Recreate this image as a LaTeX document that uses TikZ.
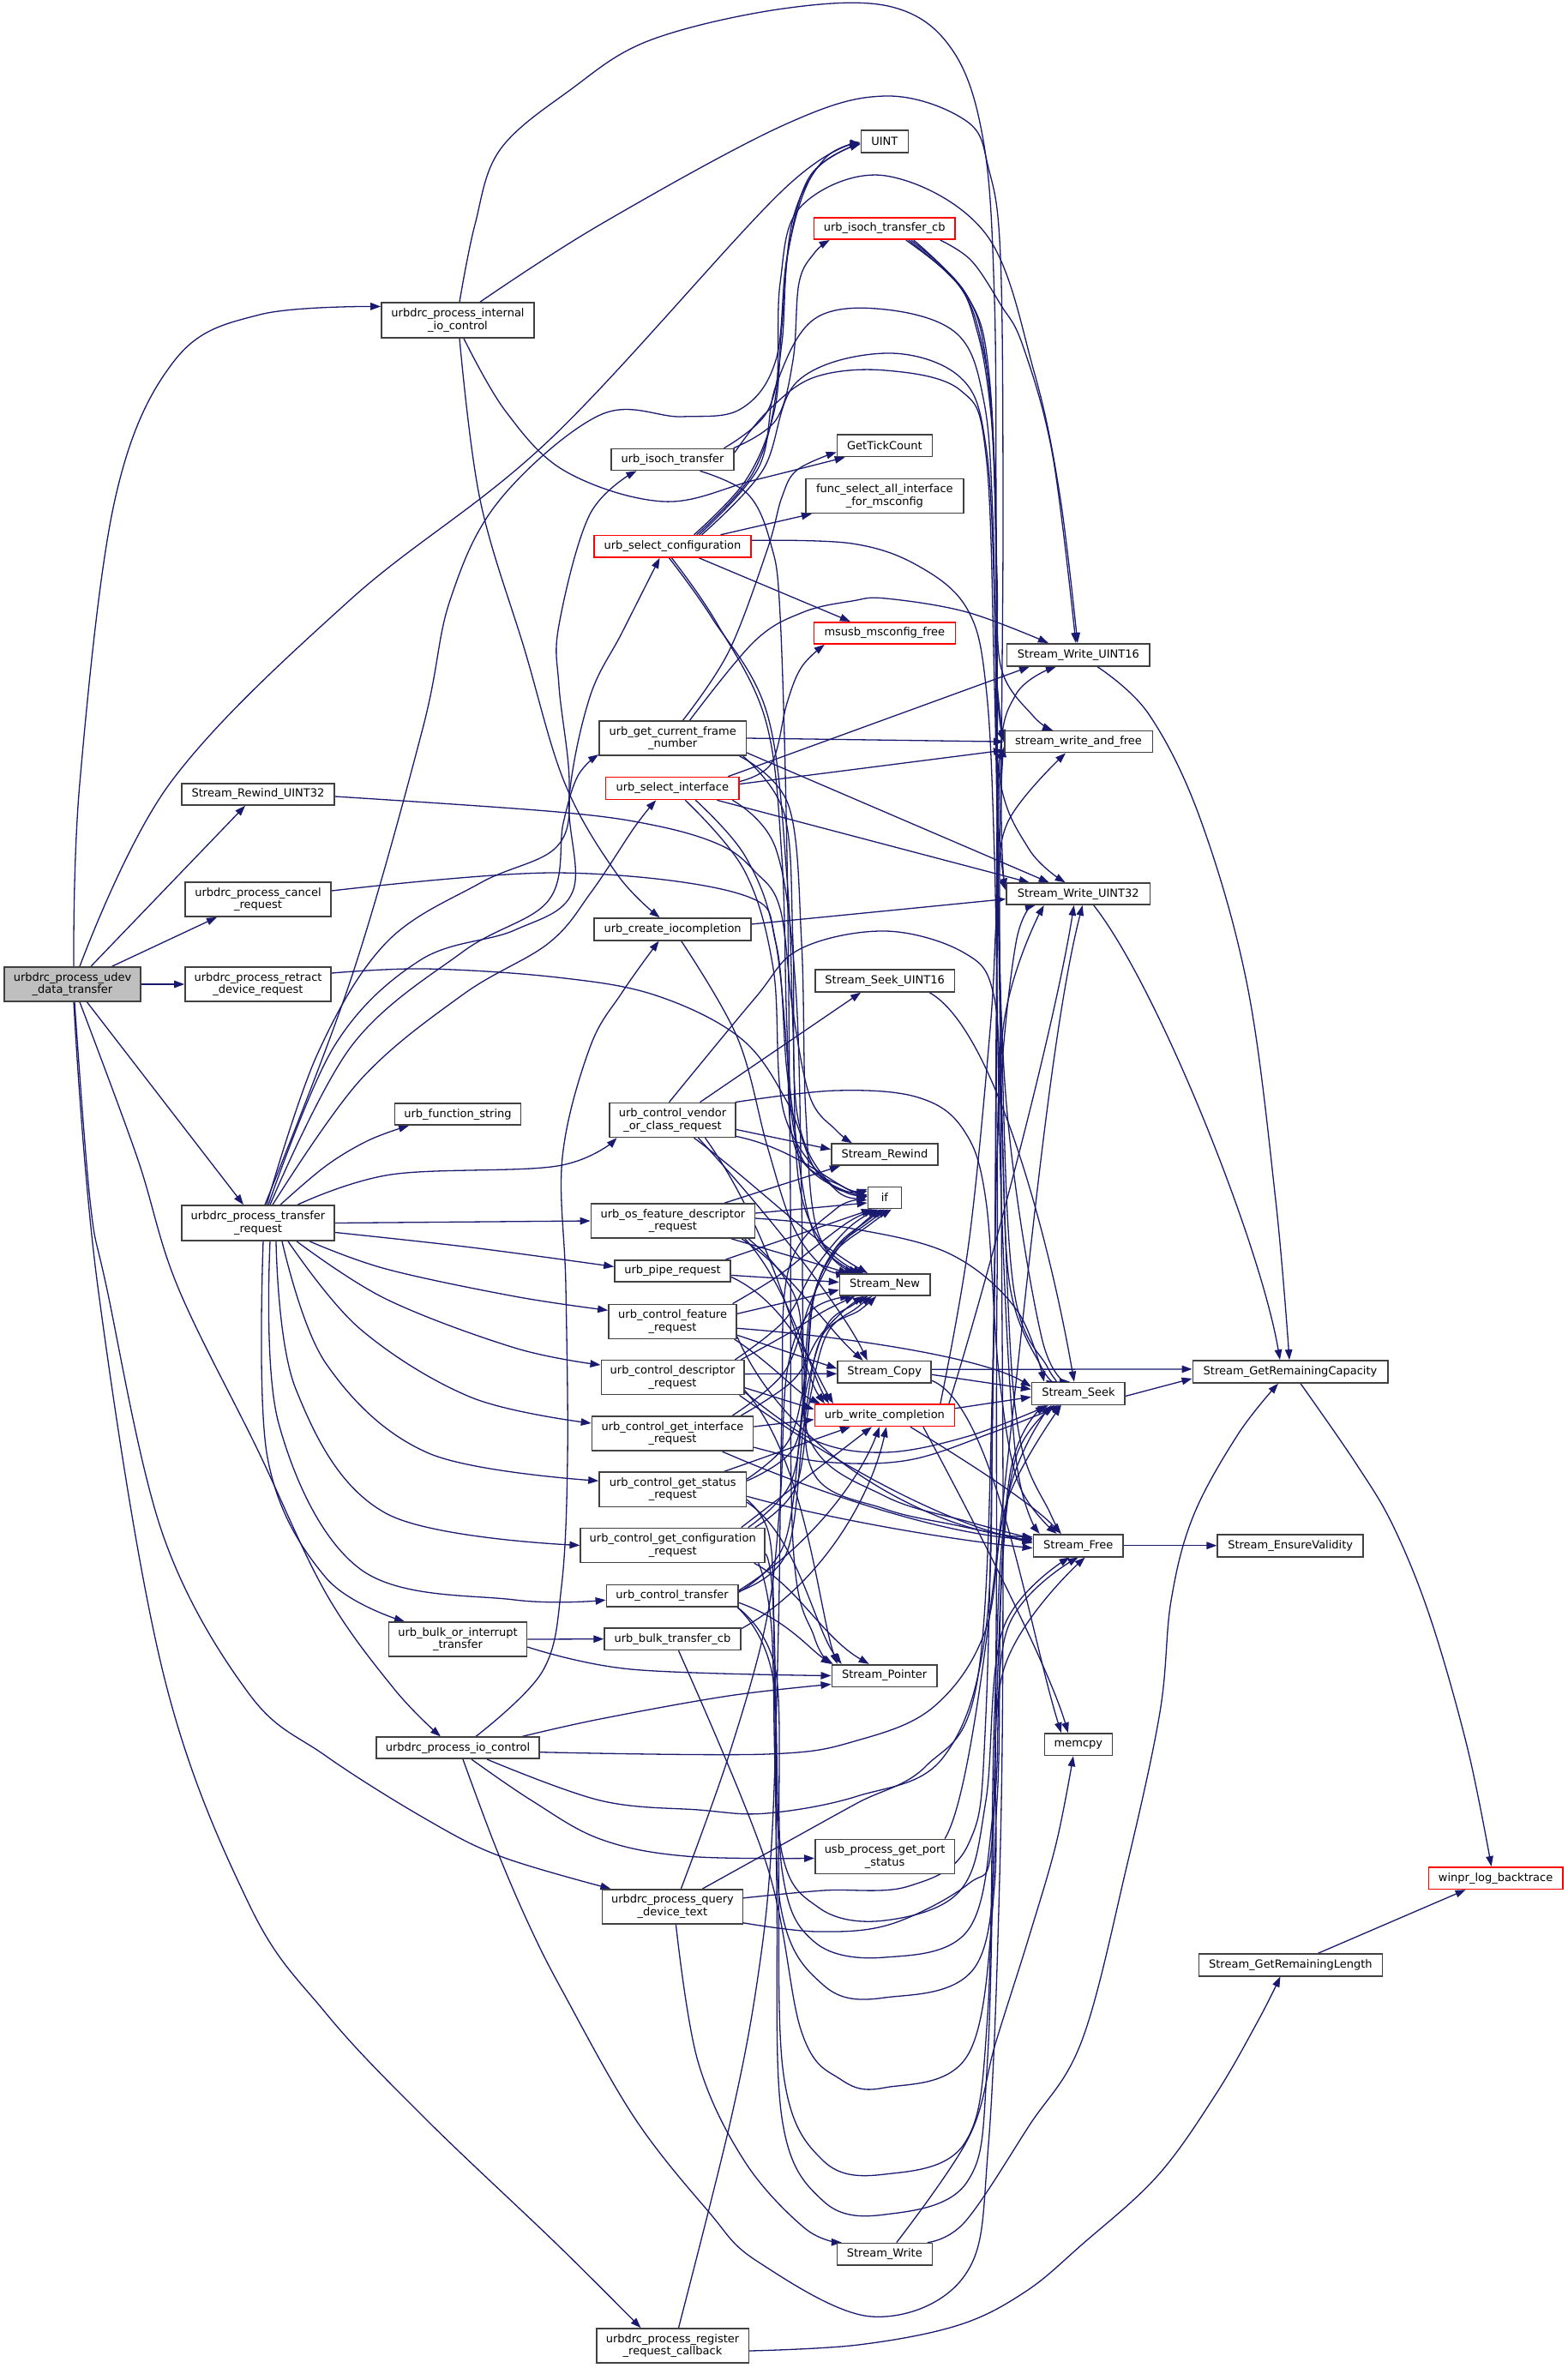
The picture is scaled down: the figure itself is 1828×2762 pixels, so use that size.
\documentclass[tikz,border=0pt]{standalone}
\usepackage{fontspec}
\setmainfont{DejaVu Sans}
\usetikzlibrary{arrows.meta}
\pgfdeclarelayer{bg}
\pgfsetlayers{bg,main}
\definecolor{edgec}{HTML}{191970}
\definecolor{nodeb}{HTML}{404040}
\definecolor{rootf}{HTML}{BFBFBF}
\tikzset{
  nb/.style={draw=nodeb, fill=white, line width=1.6pt, inner sep=0pt, align=center, font=\fontsize{13}{14.6}\selectfont},
  nr/.style={nb, draw=red},
  nroot/.style={nb, fill=rootf},
  e/.style={draw=edgec, line width=1.3pt, -{Triangle[length=12pt,width=8.5pt]}}
}
\newcommand{\mkbox}[7][nb]{\node[#1,minimum width=#5pt,minimum height=#6pt] (#2) at (#3,#4) {#7};}
\newcommand{\edgeplot}[1]{\draw[e] plot[smooth,tension=0.6] coordinates {#1};}
\begin{document}
\begin{tikzpicture}[x=1pt,y=-1pt]
\useasboundingbox (0,0) rectangle (1828,2762);
% ---------- nodes ----------
\mkbox[nroot]{R}{84.5}{1148}{159}{40}{urbdrc\_process\_udev\\\_data\_transfer}
\mkbox{IIC}{534}{373.5}{178}{41}{urbdrc\_process\_internal\\\_io\_control}
\mkbox{SRU}{301}{926.5}{178.5}{25}{Stream\_Rewind\_UINT32}
\mkbox{CAN}{301}{1049}{170}{40}{urbdrc\_process\_cancel\\\_request}
\mkbox{RET}{301}{1148}{170}{40}{urbdrc\_process\_retract\\\_device\_request}
\mkbox{TR}{301}{1426.5}{178.5}{41}{urbdrc\_process\_transfer\\\_request}
\mkbox{UFS}{534}{1299.6}{147}{25}{urb\_function\_string}
\mkbox{BOI}{534}{1912}{161}{40}{urb\_bulk\_or\_interrupt\\\_transfer}
\mkbox{IO}{534}{2038.7}{190.5}{25}{urbdrc\_process\_io\_control}
\mkbox{ISO}{784.5}{536}{143}{25}{urb\_isoch\_transfer}
\mkbox[nr]{SCF}{784.5}{637.3}{182.6}{25.5}{urb\_select\_configuration}
\mkbox{GCF}{784.7}{861}{171.4}{40.5}{urb\_get\_current\_frame\\\_number}
\mkbox[nr]{SIF}{784.3}{919.5}{155.4}{26}{urb\_select\_interface}
\mkbox{CIO}{784.6}{1083.9}{183}{25.7}{urb\_create\_iocompletion}
\mkbox{CVR}{784.5}{1306.4}{146.6}{40}{urb\_control\_vendor\\\_or\_class\_request}
\mkbox{OSF}{784.9}{1424}{191}{40}{urb\_os\_feature\_descriptor\\\_request}
\mkbox{PIP}{784.5}{1482.4}{135}{25.2}{urb\_pipe\_request}
\mkbox{CFR}{784.6}{1541.3}{149.3}{40}{urb\_control\_feature\\\_request}
\mkbox{CDR}{784.5}{1606.6}{166.4}{40}{urb\_control\_descriptor\\\_request}
\mkbox{CGI}{784.5}{1672}{188}{40.5}{urb\_control\_get\_interface\\\_request}
\mkbox{CGS}{784.7}{1737.2}{171.4}{40.2}{urb\_control\_get\_status\\\_request}
\mkbox{CGC}{784.7}{1802.4}{215}{40}{urb\_control\_get\_configuration\\\_request}
\mkbox{CTR}{784.1}{1861.2}{153.4}{25.7}{urb\_control\_transfer}
\mkbox{BTC}{784.5}{1911.7}{158.8}{25.6}{urb\_bulk\_transfer\_cb}
\mkbox{QDT}{784.4}{2223.8}{163.8}{40}{urbdrc\_process\_query\\\_device\_text}
\mkbox{REG}{784.5}{2736}{177.6}{40}{urbdrc\_process\_register\\\_request\_callback}
\mkbox{UINT}{1031.8}{165}{55}{25.5}{UINT}
\mkbox[nr]{ICB}{1031.7}{266.5}{164.7}{25.5}{urb\_isoch\_transfer\_cb}
\mkbox{GTC}{1031.9}{519.8}{110.8}{25.5}{GetTickCount}
\mkbox{FSA}{1031.9}{578.5}{184.3}{40}{func\_select\_all\_interface\\\_for\_msconfig}
\mkbox[nr]{MSF}{1031.8}{738.4}{165}{25.4}{msusb\_msconfig\_free}
\mkbox{SSU}{1032.1}{1144}{162.6}{25.7}{Stream\_Seek\_UINT16}
\mkbox{SRW}{1031.9}{1346.6}{124}{25.2}{Stream\_Rewind}
\mkbox{IF}{1031.9}{1397}{39}{25.3}{if}
\mkbox{SNW}{1032.1}{1498.5}{105.2}{25.3}{Stream\_New}
\mkbox{SCP}{1031.7}{1600.3}{109}{25.3}{Stream\_Copy}
\mkbox[nr]{UWC}{1031.9}{1650.7}{163}{25.6}{urb\_write\_completion}
\mkbox{SPT}{1031.7}{1954.5}{122.8}{25.6}{Stream\_Pointer}
\mkbox{UPS}{1032.1}{2165.4}{162.6}{40.2}{usb\_process\_get\_port\\\_status}
\mkbox{SWR}{1031.8}{2629.3}{111}{25.8}{Stream\_Write}
\mkbox{SW16}{1257.9}{763.8}{166.5}{26}{Stream\_Write\_UINT16}
\mkbox{SWF}{1258}{865.1}{172.6}{25}{stream\_write\_and\_free}
\mkbox{SW32}{1257.7}{1042.6}{167.3}{25}{Stream\_Write\_UINT32}
\mkbox{SSK}{1257.9}{1625.4}{108.5}{26}{Stream\_Seek}
\mkbox{SFR}{1257.7}{1802.7}{104.7}{26}{Stream\_Free}
\mkbox{MCP}{1257.9}{2034.7}{79}{25.5}{memcpy}
\mkbox{GRC}{1505}{1599.9}{227.4}{26}{Stream\_GetRemainingCapacity}
\mkbox{SEV}{1505.2}{1802.7}{170}{26}{Stream\_EnsureValidity}
\mkbox{GRL}{1505.4}{2291.9}{214}{25.6}{Stream\_GetRemainingLength}
\mkbox[nr]{WLB}{1744.6}{2190.6}{156.6}{25.6}{winpr\_log\_backtrace}
% ---------- edges ----------
\begin{pgfonlayer}{bg}
\fill[white] (0,0) rectangle (1828,2762);
% root
\edgeplot{([xshift=1.5pt]R.north) (93,914) (134,583) (204,420) (303,367) ([yshift=16pt]IIC.west)}
\edgeplot{([xshift=8.5pt]R.north) (198,914) (408,700) (641,513) (914,221) ([yshift=-4pt]UINT.west)}
\draw[e] ([xshift=21.5pt]R.north) -- ([xshift=-15pt]SRU.south);
\draw[e] ([xshift=46pt]R.north) -- ([xshift=-48pt]CAN.south);
\draw[e] (R.east) -- (RET.west);
\draw[e] ([xshift=17pt]R.south) -- ([xshift=-17pt]TR.north);
\edgeplot{([xshift=8.5pt]R.south) (160,1350) (207,1500) (300,1690) (380,1858) (459,1969) ([xshift=-20pt]IO.north)}
\edgeplot{([xshift=2.5pt]R.south) (105,1400) (124,1500) (190,1790) (290,1975) (380,2048) (499,2123) (586,2166) ([xshift=-72pt]QDT.north)}
\edgeplot{([xshift=1.5pt]R.south) (114,1500) (190,1950) (290,2220) (380,2348) (495,2470) (650,2618) ([xshift=-37pt]REG.north)}
% internal io control
\edgeplot{([xshift=7pt]IIC.south) (590,480) (660,550) (775,585) (880,560) ([xshift=10pt]GTC.south west)}
\edgeplot{([xshift=2pt]IIC.south) (560,583) (612,758) (659,914) (720,1020) ([xshift=-15pt]CIO.north)}
\edgeplot{([xshift=2pt]IIC.north) (554,262) (583,175) (665,105) (758,47) (914,10) (1040,8) (1112,60) (1148,170) (1160,350) (1162,600) (1163,800) (SWF.west)}
\edgeplot{([xshift=26pt]IIC.north) (700,262) (914,146) (1033,112) (1127,141) (1153,196) (1167,300) (1170,600) (1168,950) ([yshift=4pt]SW32.west)}
% rewind, cancel, retract
\edgeplot{([yshift=-2.5pt]SRU.east) (650,947) (765,963) (841,986) (880,1016) (910,1060) (925,1180) (945,1280) (975,1318) ([xshift=-38pt]SRW.north)}
\edgeplot{([yshift=10pt]CAN.east) (650,1018) (864,1043) (905,1100) (918,1250) (935,1350) (985,1390) ([yshift=4pt]IF.west)}
\edgeplot{([yshift=13pt]RET.east) (497,1130) (650,1140) (765,1161) (864,1211) (918,1285) (955,1370) ([yshift=1pt]IF.west)}
% transfer request
\edgeplot{([xshift=8pt]TR.north) (410,1140) (493,850) (525,700) (583,583) (700,484) (795,486) (864,477) (905,420) (918,300) (945,205) ([yshift=-2pt]UINT.west)}
\edgeplot{([xshift=10pt]TR.north) (370,1230) (450,1100) (560,1030) (650,987) (664,914) (652,800) (652,729) (688,600) ([xshift=-42pt]ISO.south)}
\edgeplot{([xshift=12pt]TR.north) (390,1220) (490,1120) (600,1085) (668,1040) (664,930) (688,813) (726,737) ([xshift=-15pt]SCF.south)}
\edgeplot{([xshift=14pt]TR.north) (410,1220) (540,1110) (640,1050) (657,960) (674,905) ([yshift=2pt]GCF.south west)}
\edgeplot{([xshift=17pt]TR.north) (420,1260) (540,1160) (640,1100) (690,1040) (740,965) ([xshift=-19pt]SIF.south)}
\edgeplot{([xshift=26pt]TR.north) (380,1360) (430,1330) ([xshift=-57pt]UFS.south)}
\edgeplot{([xshift=46pt]TR.north) (456,1370) (650,1360) ([xshift=-65pt]CVR.south)}
\draw[e] (TR.east) -- (OSF.west);
\edgeplot{([yshift=-11pt]TR.east) (550,1455) ([yshift=5pt]PIP.west)}
\edgeplot{([xshift=60pt]TR.south) (450,1480) (600,1512) ([yshift=13pt]CFR.west)}
\edgeplot{([xshift=45pt]TR.south) (450,1515) (600,1572) ([yshift=14.6pt]CDR.west)}
\edgeplot{([xshift=35pt]TR.south) (420,1550) (550,1630) ([yshift=12pt]CGI.west)}
\edgeplot{([xshift=28pt]TR.south) (380,1590) (500,1695) ([yshift=10pt]CGS.west)}
\edgeplot{([xshift=21pt]TR.south) (345,1620) (450,1765) (CGC.west)}
\edgeplot{([xshift=14pt]TR.south) (325,1660) (420,1830) (600,1866) ([yshift=-5pt]CTR.west)}
\edgeplot{([xshift=6pt]TR.south) (312,1700) (380,1840) ([xshift=-62pt]BOI.north)}
% bulk / io control
\draw[e] (BOI.east) -- (BTC.west);
\edgeplot{([yshift=-9pt]BOI.east) (736,1947) (SPT.west)}
\edgeplot{([xshift=21pt]IO.north) (633,1949) (655,1850) (662,1700) (660,1500) (656,1350) (688,1222) (726,1157) ([xshift=-16pt]CIO.south)}
\edgeplot{([xshift=75pt]IO.north) (700,2005) (850,1978) ([yshift=-10pt]SPT.west)}
\edgeplot{([xshift=16pt]IO.south) (620,2100) (700,2145) (800,2165) ([yshift=-2pt]UPS.west)}
\edgeplot{([yshift=-5pt]IO.east) (894,2046) (1000,2030) (1090,1990) (1150,1900) (1175,1750) ([xshift=-20pt]SSK.south)}
\edgeplot{([xshift=34pt]IO.south) (700,2100) (815,2111) (894,2115) (1000,2095) (1100,2050) (1150,1900) (1158,1600) (1165,1300) (1185,1100) ([xshift=-50pt]SW32.south)}
\edgeplot{([xshift=6pt]IO.south) (578,2154) (617,2245) (657,2324) (740,2470) (826,2579) (884,2638) (1017,2702) (1126,2653) (1153,2501) (1167,2150) (1170,1800) (1168,1400) (1166,1000) ([yshift=-6pt]SWF.west)}
% query device text
\edgeplot{([xshift=4pt]QDT.south) (814,2404) (868.6,2521) (938.8,2599) ([xshift=-50pt]SWR.north)}
\edgeplot{([xshift=10pt]QDT.north) (850,2048) (894,1890) (910,1750) (918,1600) (945,1530) ([xshift=-40pt]SNW.south)}
\edgeplot{([xshift=35pt]QDT.north) (915,2150) (1000,2103) (1080,2060) (1140,1960) (1158,1600) (1162,1200) (1165,900) (1185,810) ([xshift=-26pt]SW16.south)}
\edgeplot{([yshift=-19pt]QDT.east) (954,2253) (1040,2244) (1130,2197) (1157,2150) (1162,1900) (1163,1500) (1170,1200) ([xshift=-40pt]SW32.south)}
\edgeplot{([yshift=10pt]QDT.east) (960,2205) (1060,2200) (1130,2150) (1150,2000) (1160,1500) (1164,1000) (1167,900) ([yshift=-9pt]SWF.west)}
% register callback
\edgeplot{([yshift=-6pt]REG.east) (1001,2735) (1118,2712) (1196,2673) (1262,2618) (1350,2538) (1418,2443) (1468,2356) ([xshift=-12pt]GRL.south)}
\edgeplot{([xshift=7pt]REG.north) (853,2470) (884,2306) (900,2150) (908,1900) (912,1650) (920,1480) (975,1410) ([yshift=-3pt]IF.west)}
% isoch transfer
\edgeplot{([xshift=60pt]ISO.north) (895,480) (912,400) (920,290) (950,200) ([yshift=-3pt]UINT.west)}
\edgeplot{([xshift=71pt]ISO.north) (905,490) (925,420) (932,330) (950,295) ([xshift=-64pt]ICB.south)}
\edgeplot{([xshift=32pt]ISO.south) (872,576) (899,634) (910,718) (918,1000) (922,1400) (925,1800) (950,1910) ([xshift=-62pt]SPT.north)}
\edgeplot{([yshift=8pt]ISO.east) (895,480) (950,440) (1033,432) (1120,455) (1150,530) (1160,800) (1168,1200) (1182,1500) (1222,1595) ([xshift=-20pt]SSK.north)}
% isoch transfer cb
\edgeplot{([xshift=65pt]ICB.south) (1133,304) (1167,355) (1193,403) (1228,532) ([xshift=-3pt]SW16.north)}
\edgeplot{([xshift=25pt]ICB.south) (1117,330) (1140,387) (1153,457) (1160,546) (1163,674) (1168,780) (1205,835) ([xshift=-30pt]SWF.north)}
\edgeplot{([xshift=28pt]ICB.south) (1120,335) (1145,400) (1158,500) (1163,700) (1165,900) (1200,990) ([xshift=-15pt]SW32.north)}
\edgeplot{([xshift=31pt]ICB.south) (1125,340) (1150,420) (1161,600) (1164,1000) (1175,1300) (1215,1560) ([xshift=-10pt]SSK.north)}
\edgeplot{([xshift=34pt]ICB.south) (1128,345) (1153,430) (1162,650) (1165,1100) (1175,1500) (1190,1680) (1225,1765) ([xshift=-20pt]SFR.north)}
% select configuration
\edgeplot{([xshift=25pt]SCF.north) (870,560) (903,480) (912,380) (925,255) (962,185) ([yshift=-1pt]UINT.west)}
\edgeplot{([xshift=28pt]SCF.north) (878,552) (905,460) (910,330) (935,240) (1033,205) (1150,273) (1206,433) (1236,576) ([xshift=-1pt]SW16.north)}
\edgeplot{([xshift=31pt]SCF.north) (885,545) (905,450) (950,372) (1033,361) (1117,390) (1148,470) (1158,600) (1162,780) ([yshift=2pt]SWF.west)}
\edgeplot{([xshift=34pt]SCF.north) (890,548) (930,445) (1033,412) (1120,440) (1150,520) (1160,700) (1164,950) ([yshift=6pt]SW32.west)}
\draw[e] ([xshift=56pt]SCF.north) -- ([xshift=-85pt]FSA.south);
\draw[e] ([xshift=31pt]SCF.south) -- ([xshift=-40pt]MSF.north);
\edgeplot{([yshift=7pt]SCF.east) (994,634) (1071,660) (1128,710) (1150,800) (1160,1000) (1168,1400) (1185,1700) ([xshift=-45pt]SFR.north)}
\edgeplot{([xshift=-4pt]SCF.south) (830,720) (895,833) (918,1024) (925,1200) (932,1380) (965,1460) ([xshift=-35pt]SNW.north)}
\edgeplot{([xshift=-1pt]SCF.south) (835,725) (893,840) (912,1000) (918,1200) (928,1340) (985,1385) ([yshift=8pt]IF.west)}
% current frame number
\edgeplot{([xshift=12pt]GCF.north) (850,760) (895,641) (912,580) (930,548) ([yshift=6pt]GTC.south west)}
\edgeplot{([xshift=20pt]GCF.north) (880,748) (937,714) (994,701) (1033,698) (1128,714) ([xshift=-35pt]SW16.north)}
\draw[e] (GCF.east) -- (SWF.west);
\draw[e] ([yshift=-17pt]GCF.east) -- ([xshift=-34pt]SW32.north);
\edgeplot{([xshift=78pt]GCF.south) (920,940) (935,1100) (940,1300) (955,1440) ([xshift=-25pt]SNW.north)}
\edgeplot{([xshift=82pt]GCF.south) (915,950) (925,1100) (930,1300) (970,1382) ([yshift=10pt]IF.west)}
% select interface
\draw[e] ([xshift=65pt]SIF.north) -- ([xshift=-57pt]SW16.south);
\edgeplot{([yshift=8pt]SIF.east) (900,890) (918,820) (935,778) ([xshift=-70pt]MSF.south)}
\draw[e] ([yshift=5pt]SIF.east) -- ([yshift=-10pt]SWF.west);
\draw[e] ([xshift=52pt]SIF.south) -- ([xshift=-57pt]SW32.north);
\edgeplot{([xshift=27pt]SIF.south) (870,1000) (905,1100) (925,1300) (950,1440) ([xshift=-30pt]SNW.north)}
\edgeplot{([xshift=15pt]SIF.south) (868,1015) (902,1130) (915,1300) (975,1388) ([yshift=2pt]IF.west)}
\edgeplot{([xshift=70pt]SIF.south) (905,990) (928,1150) (935,1400) (938,1600) (950,1720) (1032,1760) (1120,1780) ([yshift=5pt]SFR.west)}
% create iocompletion
\draw[e] ([yshift=6pt]CIO.east) -- ([yshift=-6pt]SW32.west);
\edgeplot{([xshift=10pt]CIO.south) (860,1210) (895,1337) (925,1430) (960,1478) ([xshift=-45pt]SNW.north)}
% vendor or class request
\draw[e] ([xshift=32pt]CVR.north) -- ([xshift=-28pt]SSU.south);
\draw[e] ([yshift=-11pt]CVR.east) -- ([yshift=6pt]SRW.west);
\draw[e] ([yshift=-19pt]CVR.east) .. controls (930,1340) and (975,1385) .. ([yshift=2pt]IF.west);
\draw[e] ([xshift=25pt]CVR.south) .. controls (880,1380) and (950,1450) .. ([xshift=-20pt]SNW.north);
\draw[e] ([xshift=30pt]CVR.south) .. controls (900,1420) and (985,1530) .. ([xshift=-20pt]SCP.north);
\draw[e] ([xshift=38pt]CVR.south) .. controls (910,1450) and (935,1600) .. ([xshift=-70pt]UWC.north);
\edgeplot{([xshift=-4pt]CVR.north) (880,1165) (933,1107) (1033,1086) (1124,1111) (1159,1160) (1168,1300) (1178,1500) (1215,1595) ([xshift=-25pt]SSK.north)}
\edgeplot{([xshift=73pt]CVR.north) (975,1272) (1071,1280) (1124,1318) (1150,1400) (1165,1600) (1188,1730) ([xshift=-25pt]SFR.north)}
% os feature descriptor
\draw[e] ([xshift=60pt]OSF.north) -- ([xshift=-52pt]SRW.south);
\draw[e] ([yshift=9pt]OSF.east) -- ([yshift=-6pt]IF.west);
\edgeplot{([yshift=3pt]OSF.east) (994,1433) (1109,1463) (1186,1528) ([xshift=-40pt]SSK.north)}
\draw[e] ([xshift=68pt]OSF.south) -- ([xshift=-42pt]SNW.north);
\draw[e] ([xshift=80pt]OSF.south) .. controls (920,1480) and (965,1550) .. ([xshift=-25pt]SCP.north);
\draw[e] ([xshift=84pt]OSF.south) .. controls (920,1500) and (945,1600) .. ([xshift=-65pt]UWC.north);
\edgeplot{([xshift=88pt]OSF.south) (930,1520) (945,1680) (1032,1745) (1130,1775) ([yshift=8pt]SFR.west)}
% pipe request
\draw[e] ([xshift=62pt]PIP.north) -- ([xshift=-15pt]IF.south);
\draw[e] ([yshift=-5pt]PIP.east) -- ([yshift=3pt]SNW.west);
\draw[e] ([yshift=-7pt]PIP.east) .. controls (920,1520) and (950,1600) .. ([xshift=-60pt]UWC.north);
% feature request
\edgeplot{([xshift=70pt]CFR.north) (905,1490) (950,1455) (990,1425) ([xshift=-12pt]IF.south)}
\draw[e] ([yshift=9pt]CFR.east) -- ([yshift=-6pt]SNW.west);
\draw[e] ([yshift=-8pt]CFR.east) .. controls (1000,1560) and (1150,1585) .. ([yshift=8pt]SSK.west);
\draw[e] ([yshift=-16pt]CFR.east) -- ([yshift=4pt]SCP.west);
\draw[e] ([xshift=72pt]CFR.south) .. controls (900,1590) and (930,1625) .. ([xshift=-75pt]UWC.north);
\draw[e] ([yshift=-18pt]CFR.east) .. controls (920,1700) and (1100,1790) .. ([yshift=10pt]SFR.west);
% descriptor request
\edgeplot{([xshift=73pt]CDR.north) (915,1540) (950,1480) (990,1432) ([xshift=-8pt]IF.south)}
\edgeplot{([xshift=80pt]CDR.north) (920,1555) (960,1530) ([xshift=-35pt]SNW.south)}
\draw[e] ([yshift=4pt]CDR.east) -- ([yshift=-2pt]SCP.west);
\draw[e] ([yshift=-12pt]CDR.east) -- ([yshift=7pt]UWC.west);
\edgeplot{([yshift=-17pt]CDR.east) (950,1680) (1033,1694) (1130,1675) ([xshift=-35pt]SSK.south)}
\draw[e] ([xshift=78pt]CDR.south) .. controls (950,1690) and (1080,1770) .. ([yshift=3pt]SFR.west);
\draw[e] ([yshift=-15pt]CDR.east) .. controls (940,1700) and (955,1880) .. ([xshift=-55pt]SPT.north);
% get interface
\draw[e] ([yshift=8pt]CGI.east) -- ([yshift=-5pt]UWC.west);
\edgeplot{([xshift=70pt]CGI.north) (915,1600) (945,1520) (975,1460) (1005,1428) ([xshift=-4pt]IF.south)}
\edgeplot{([xshift=80pt]CGI.north) (925,1610) (955,1560) (985,1528) ([xshift=-25pt]SNW.south)}
\draw[e] ([xshift=58pt]CGI.south) .. controls (950,1740) and (1100,1790) .. ([yshift=7pt]SFR.west);
\edgeplot{([yshift=-16pt]CGI.east) (960,1705) (1060,1703) (1160,1670) ([xshift=-20pt]SSK.south)}
% get status
\draw[e] ([xshift=60pt]CGS.north) -- ([xshift=-40pt]UWC.south);
\edgeplot{([yshift=12pt]CGS.east) (920,1680) (940,1600) (950,1510) (975,1455) (1010,1425) (IF.south)}
\edgeplot{([yshift=10pt]CGS.east) (925,1690) (943,1610) (965,1545) (995,1522) ([xshift=-20pt]SNW.south)}
\draw[e] ([yshift=-15pt]CGS.east) .. controls (930,1790) and (950,1900) .. ([xshift=-50pt]SPT.north);
\draw[e] ([yshift=-8pt]CGS.east) .. controls (960,1770) and (1100,1795) .. ([yshift=-3pt]SFR.west);
\edgeplot{([yshift=-12pt]CGS.east) (897,1790) (903,1900) (908,2150) (914,2420) (960,2520) (1032,2536) (1125,2500) (1152,2350) (1160,2000) (1175,1750) ([xshift=-32pt]SSK.south)}
% get configuration
\draw[e] ([xshift=80pt]CGC.north) -- ([xshift=-15pt]UWC.south);
\edgeplot{([xshift=88pt]CGC.north) (922,1730) (938,1630) (948,1520) (972,1460) (1010,1428) ([xshift=4pt]IF.south)}
\edgeplot{([xshift=96pt]CGC.north) (928,1735) (945,1630) (965,1555) (1000,1525) ([xshift=-15pt]SNW.south)}
\draw[e] ([xshift=95pt]CGC.south) .. controls (930,1850) and (960,1910) .. ([xshift=-18pt]SPT.north);
\edgeplot{([xshift=100pt]CGC.south) (900,1900) (910,2150) (955,2225) (1032,2240) (1120,2205) (1150,2100) (1170,1900) ([xshift=-10pt]SFR.south)}
\edgeplot{([yshift=-10pt]CGC.east) (902,1880) (906,2200) (912,2470) (960,2567) (1032,2583) (1128,2545) (1152,2400) (1162,2000) (1178,1720) ([xshift=-38pt]SSK.south)}
% control transfer
\draw[e] ([yshift=6pt]CTR.east) .. controls (950,1800) and (1005,1720) .. ([xshift=-6pt]UWC.south);
\edgeplot{([yshift=4pt]CTR.east) (915,1800) (935,1650) (945,1530) (970,1465) (1015,1428) ([xshift=8pt]IF.south)}
\edgeplot{([yshift=5pt]CTR.east) (918,1810) (938,1660) (958,1560) (1003,1528) ([xshift=-10pt]SNW.south)}
\draw[e] ([yshift=-8pt]CTR.east) .. controls (920,1890) and (945,1925) .. ([xshift=-60pt]SPT.north);
\edgeplot{([xshift=76pt]CTR.south) (905,1950) (912,2180) (950,2265) (1032,2283) (1130,2250) (1160,2100) (1175,1900) (SFR.south)}
\edgeplot{([xshift=76pt]CTR.south) (902,1960) (910,2220) (960,2315) (1032,2330) (1140,2290) (1163,2100) (1168,1850) (1185,1700) ([xshift=-28pt]SSK.south)}
% bulk transfer cb
\draw[e] ([yshift=12pt]BTC.east) .. controls (955,1850) and (1015,1750) .. ([xshift=2pt]UWC.south);
\edgeplot{([xshift=7pt]BTC.south) (894,2174) (935,2370) (980,2425) (1032,2435) (1130,2395) (1160,2200) (1170,1950) ([xshift=8pt]SFR.south)}
% write completion
\draw[e] ([yshift=8pt]UWC.east) -- ([yshift=-4pt]SSK.west);
\draw[e] ([xshift=75pt]UWC.north) .. controls (1150,1500) and (1230,1200) .. ([xshift=-5pt]SW32.south);
\edgeplot{([xshift=65pt]UWC.north) (1130,1450) (1155,1200) (1163,1060) (1175,960) ([xshift=-15pt]SWF.south)}
\draw[e] ([xshift=30pt]UWC.south) .. controls (1120,1700) and (1200,1750) .. ([xshift=-20pt]SFR.north);
\draw[e] ([xshift=45pt]UWC.south) .. controls (1150,1800) and (1225,1950) .. ([xshift=-12pt]MCP.north);
% seek uint16, copy, port status
\draw[e] ([xshift=52pt]SSU.south) .. controls (1160,1200) and (1225,1450) .. ([xshift=-5pt]SSK.north);
\draw[e] ([yshift=3pt]SCP.east) -- ([yshift=3pt]GRC.west);
\draw[e] ([yshift=-3pt]SCP.east) -- ([yshift=5pt]SSK.west);
\draw[e] ([yshift=-10pt]SCP.east) .. controls (1160,1640) and (1200,1900) .. ([xshift=-20pt]MCP.north);
\draw[e] ([xshift=70pt]UPS.north) .. controls (1160,2050) and (1200,1300) .. ([xshift=5pt]SW32.south);
% stream write
\edgeplot{([xshift=50pt]SWR.north) (1126,2591) (1200,2480) (1262,2380) (1314,2178) (1353,1997) (1366,1867) (1392,1768) (1444,1673) ([xshift=-14pt]GRC.south)}
\edgeplot{([xshift=14pt]SWR.north) (1130,2493) (1161,2384) (1200,2260) (1232,2150) ([xshift=-6pt]MCP.south)}
% right side
\edgeplot{([xshift=22pt]SW16.south) (1340,833) (1400,955) (1455,1150) (1488,1400) ([xshift=-1pt]GRC.north)}
\draw[e] ([xshift=18pt]SW32.south) .. controls (1350,1150) and (1470,1450) .. ([xshift=-12pt]GRC.north);
\draw[e] ([yshift=-3pt]SSK.east) -- ([yshift=-8pt]GRC.west);
\draw[e] (SFR.east) -- (SEV.west);
\edgeplot{([xshift=12pt]GRC.south) (1582,1707.5) (1625.6,1781) (1669,1889) (1712,2040) ([xshift=-5pt]WLB.north)}
\draw[e] ([xshift=32pt]GRL.north) -- ([xshift=-35pt]WLB.south);
\end{pgfonlayer}
\end{tikzpicture}
\end{document}
